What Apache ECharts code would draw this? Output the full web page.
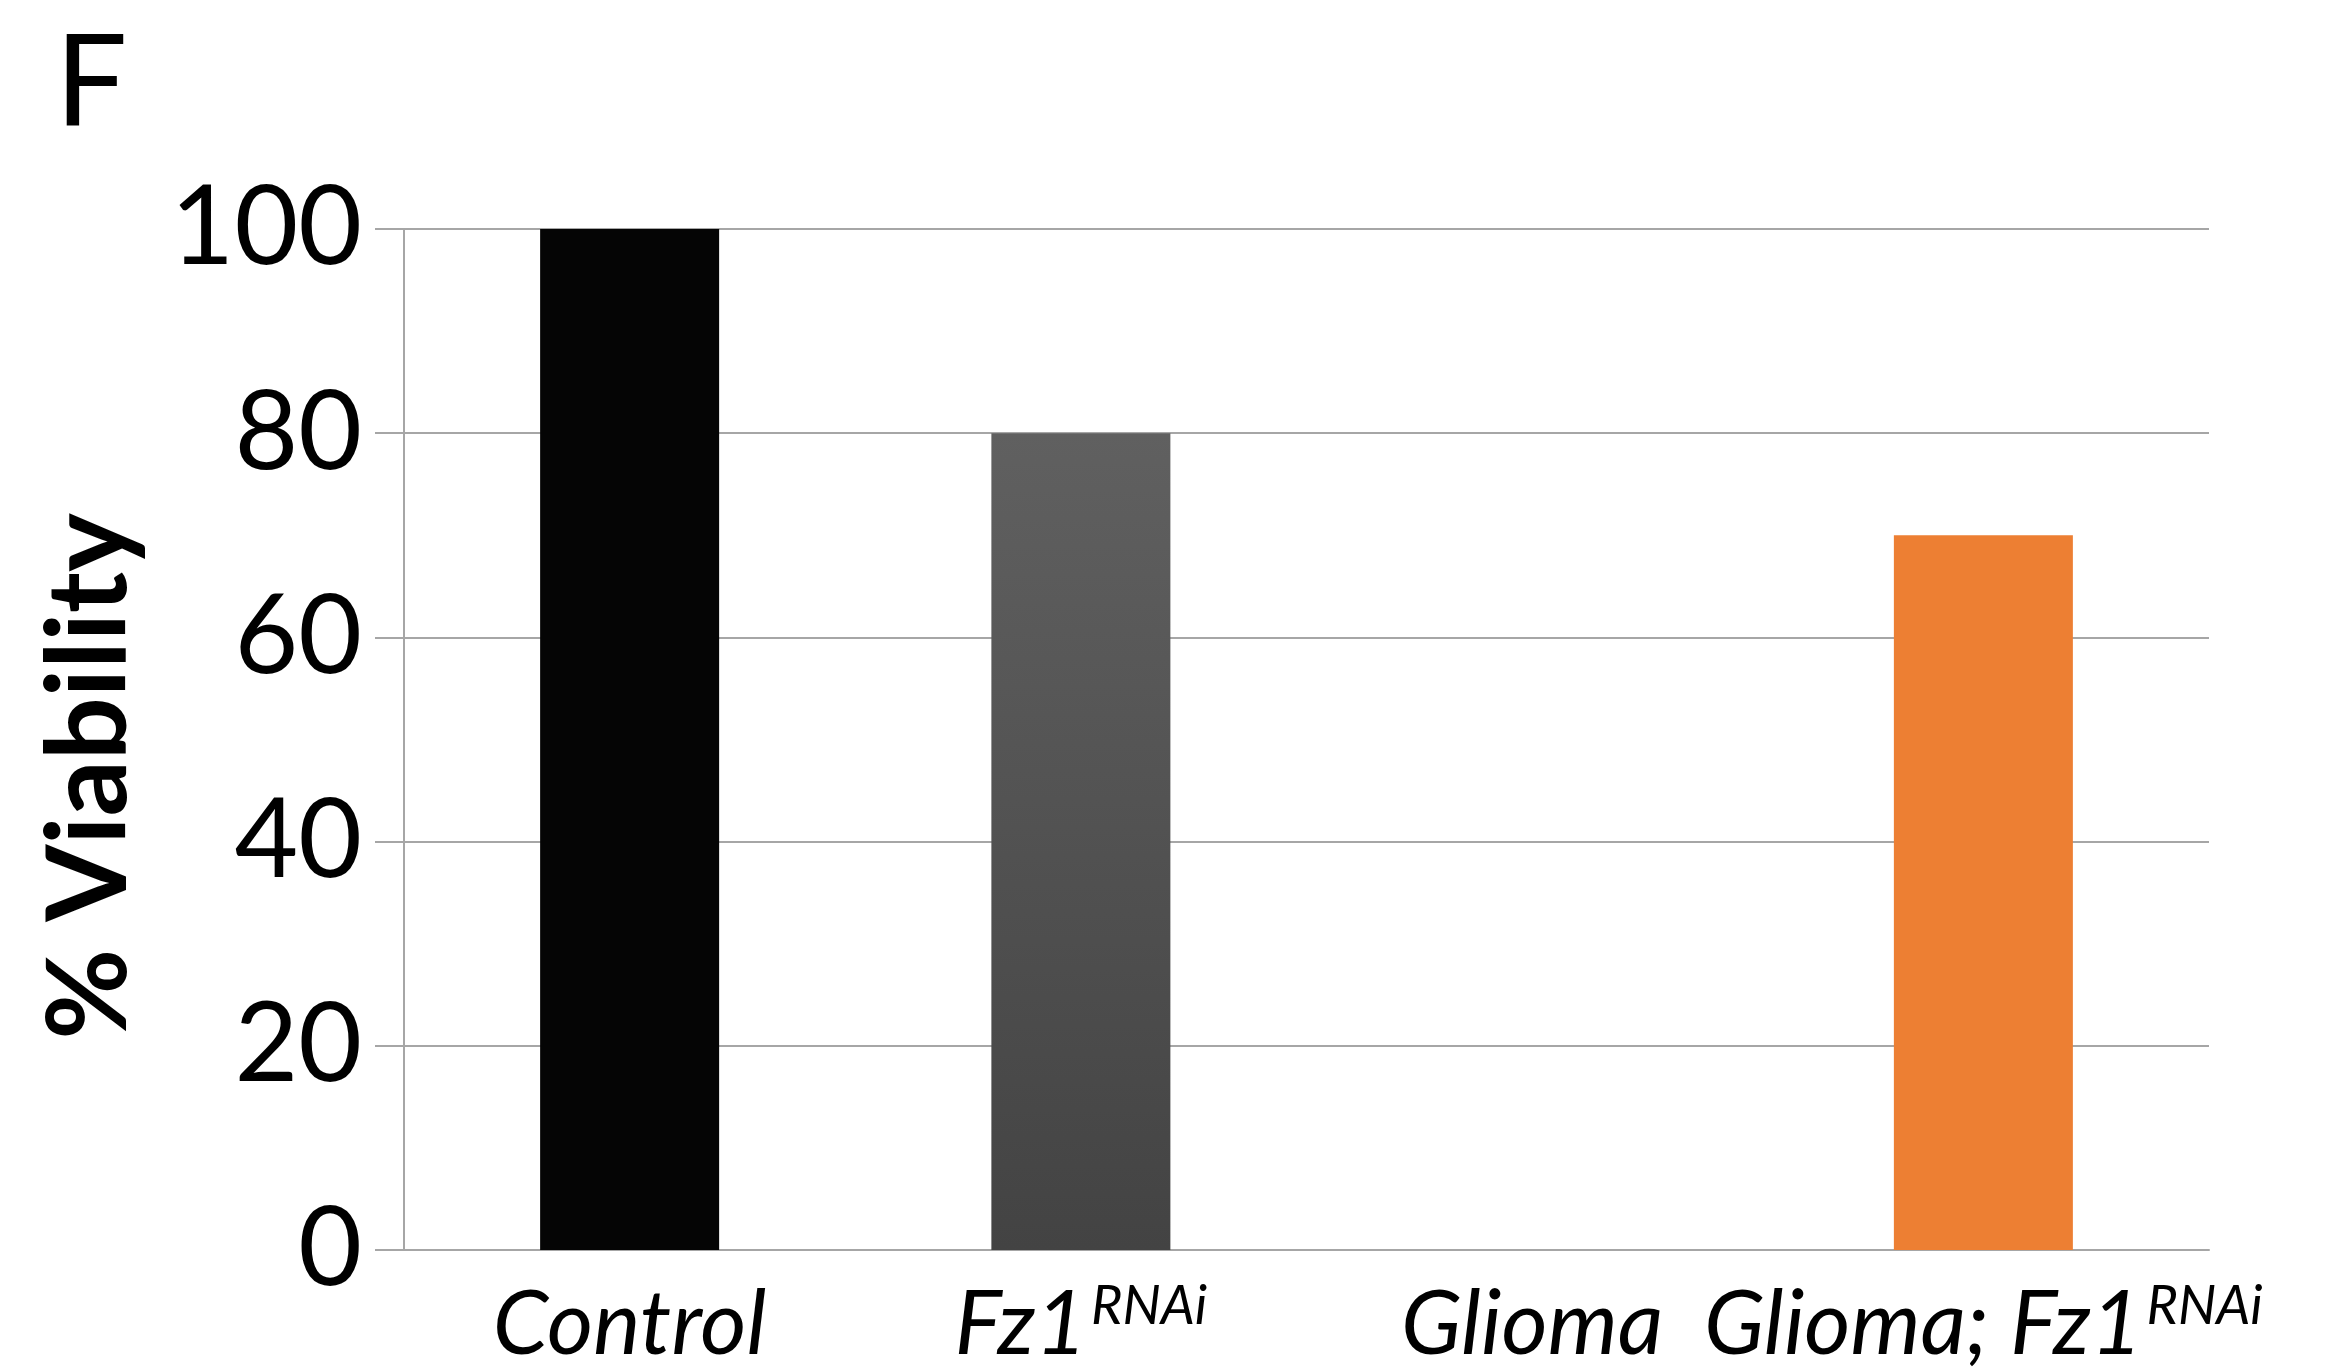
<!DOCTYPE html>
<html>
<head>
<meta charset="utf-8">
<script src="https://cdn.jsdelivr.net/npm/echarts@6/dist/echarts.min.js"></script>
<style>
  html, body { margin: 0; padding: 0; background: #ffffff; }
  #chart { width: 2347px; height: 1372px; }
</style>
</head>
<body>
<div id="chart"></div>
<script>
// Genotypes, their superscript tags and viability (%)
const categories = ['Control', 'Fz1', 'Glioma', 'Glioma; Fz1'];
const superscripts = ['', 'RNAi', '', 'RNAi'];
const viability = [100, 80, 0, 70];
const yTicks = { min: 0, max: 100, interval: 20 };

const gridColor = '#a6a6a6';
const font = 'Lato';

const barColors = [
  '#050505',
  { type: 'linear', x: 0, y: 0, x2: 0, y2: 1,
    colorStops: [{ offset: 0, color: '#606060' }, { offset: 1, color: '#434343' }] },
  '#888888',
  '#ed7f33'
];

const chart = echarts.init(document.getElementById('chart'), null, { renderer: 'canvas' });

chart.setOption({
  backgroundColor: '#ffffff',
  animation: false,
  title: {
    text: 'F',
    left: 50,
    top: 16,
    textStyle: { fontFamily: font, fontSize: 128, fontWeight: 'normal', color: '#000' }
  },
  grid: { left: 404, right: 138, top: 229, bottom: 122, containLabel: false },
  xAxis: {
    type: 'category',
    data: categories,
    axisLine: { show: true, lineStyle: { color: gridColor, width: 2 } },
    axisTick: { show: false },
    axisLabel: {
      interval: 0,
      hideOverlap: false,
      margin: 20,
      formatter: function (value, idx) {
        const sup = superscripts[idx];
        return sup ? '{main|' + value + '}{sup|' + sup + '}' : '{main|' + value + '}';
      },
      rich: {
        main: { fontFamily: font, fontStyle: 'italic', fontSize: 89, color: '#000', lineHeight: 100, verticalAlign: 'bottom' },
        sup: { fontFamily: font, fontStyle: 'italic', fontSize: 54, color: '#000', lineHeight: 100, verticalAlign: 'bottom', padding: [0, 0, 36, 4] }
      }
    }
  },
  yAxis: {
    type: 'value',
    min: yTicks.min,
    max: yTicks.max,
    interval: yTicks.interval,
    name: '% Viability',
    nameLocation: 'middle',
    nameRotate: 90,
    nameGap: 258,
    nameTextStyle: { fontFamily: font, fontWeight: 'bold', fontSize: 111, color: '#000', padding: [0, 74, 0, 0] },
    axisLine: { show: true, lineStyle: { color: gridColor, width: 2 } },
    axisTick: { show: true, length: 29, lineStyle: { color: gridColor, width: 2 } },
    splitLine: { show: true, lineStyle: { color: gridColor, width: 2 } },
    axisLabel: { margin: 42, fontFamily: font, fontSize: 110, color: '#000' }
  },
  series: [{
    type: 'bar',
    barWidth: 179,
    data: viability.map((v, i) => ({ value: v, itemStyle: { color: barColors[i] } }))
  }]
});
</script>
</body>
</html>
